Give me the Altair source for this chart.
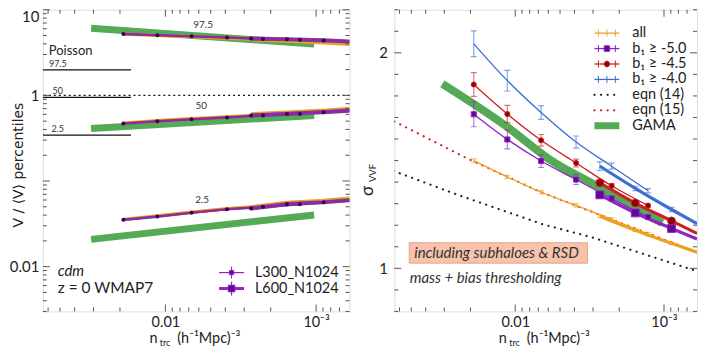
import altair as alt
import pandas as pd

# ---------------- data ----------------
n_L300 = [0.0190, 0.0113, 0.0067, 0.0039, 0.00225, 0.00128]
n_L600 = [0.0027, 0.00156, 0.00089, 0.0006]

# left panel: percentiles of V/<V>  (b1 selections overlap; "all" = orange)
p975_L300 = [5.22, 5.04, 4.91, 4.73, 4.54, 4.46]
p975_L600 = [4.61, 4.52, 4.38, 4.26]
p975_L300_all = [5.18, 5.00, 4.86, 4.66, 4.48, 4.36]
p975_L600_all = [4.55, 4.40, 4.20, 4.02]
p50_L300 = [0.468, 0.498, 0.525, 0.553, 0.583, 0.608]
p50_L600 = [0.583, 0.608, 0.636, 0.665]
p50_L300_all = [0.476, 0.506, 0.534, 0.563, 0.594, 0.620]
p50_L600_all = [0.596, 0.624, 0.655, 0.690]
p25_L300 = [0.0352, 0.0384, 0.0426, 0.0467, 0.0499, 0.0536]
p25_L600 = [0.0479, 0.0536, 0.0565, 0.0596]
p25_L300_all = [0.0357, 0.0391, 0.0434, 0.0476, 0.0510, 0.0548]
p25_L600_all = [0.0489, 0.0549, 0.0582, 0.0618]

gama_n = [0.0311, 0.00103]
gama_p975 = [6.07, 3.98]
gama_p50 = [0.41, 0.583]
gama_p25 = [0.0208, 0.0401]

poisson_n = [0.065, 0.0169]
poisson_levels = [1.99, 0.95, 0.344]
poisson_names = ["97.5", "50", "2.5"]

# right panel: sigma_VVF
sig_all_L300 = [1.500, 1.424, 1.353, 1.292, 1.227, 1.159]
sig_b50_L300 = [1.715, 1.598, 1.498, 1.412, 1.324, 1.238]
sig_b45_L300 = [1.853, 1.716, 1.594, 1.489, 1.383, 1.291]
sig_b40_L300 = [2.042, 1.871, 1.723, 1.586, 1.474, 1.360]
err_all_L300 = [0.008, 0.008, 0.008, 0.008, 0.008, 0.008]
err_b50_L300 = [0.058, 0.044, 0.030, 0.023, 0.012, 0.010]
err_b45_L300 = [0.055, 0.040, 0.027, 0.018, 0.010, 0.008]
err_b40_L300 = [0.060, 0.048, 0.032, 0.028, 0.014, 0.010]
sig_all_L600 = [1.242, 1.177, 1.116, 1.075]
sig_b50_L600 = [1.341, 1.257, 1.185, 1.136]
sig_b45_L600 = [1.397, 1.303, 1.220, 1.162]
sig_b40_L600 = [1.474, 1.371, 1.273, 1.207]
err_all_L600 = [0.006, 0.006, 0.006]
err_b50_L600 = [0.012, 0.008, 0.008]
err_b45_L600 = [0.012, 0.008, 0.008]
err_b40_L600 = [0.020, 0.010, 0.010]

eqn14_n = [0.0658, 0.0246, 0.00658, 0.00306, 0.000634]
eqn14_sig = [1.452, 1.342, 1.205, 1.144, 0.992]
eqn15_n = [0.065, 0.0206, 0.0067, 0.00225, 0.0006]
eqn15_sig = [1.682, 1.507, 1.353, 1.227, 1.075]
gama_sig_n = [0.0309, 0.01148, 0.00593, 0.00277, 0.001026]
gama_sig = [1.856, 1.659, 1.507, 1.379, 1.210]

# ---------------- style ----------------
W_L, W_R, H = 308, 304, 303
FONT = "Lato"
AX = "#555555"
TXT = "#222222"
GREEN = "#55aa55"
COL = {"all": "#f0a020", "b50": "#8e24c8", "b45": "#cc2222", "b40": "#3b6fd4"}
FILL = {"b50": "#5e0a96", "b45": "#8a0010"}

XAX = alt.Axis(values=[0.01, 0.001], labelExpr="datum.value > 0.005 ? '0.01' : '10⁻³'",
               ticks=False, domain=False, grid=False, labelPadding=4, labelFontSize=14.5,
               labelFont=FONT, labelColor=TXT, title=None, labelFlush=False, labelOverlap=False)
YLAX = alt.Axis(values=[10, 1, 0.01],
                labelExpr="datum.value >= 10 ? '10' : (datum.value >= 1 ? '1' : '0.01')",
                ticks=False, domain=False, grid=False, labelPadding=4, labelFontSize=15,
                labelFont=FONT, labelColor=TXT, title=None, labelFlush=True, labelFlushOffset=0,
                labelOverlap=False)
YRAX = alt.Axis(values=[1, 2], format="d", ticks=False, domain=False, grid=False, labelPadding=7,
                labelFontSize=15, labelFont=FONT, labelColor=TXT, title=None, labelFlush=False)


def X(f="n"):
    return alt.X(f"{f}:Q", scale=alt.Scale(type="log", domain=[0.0006, 0.065], reverse=True), axis=XAX)


def YL(f="v"):
    return alt.Y(f"{f}:Q", scale=alt.Scale(type="log", domain=[0.003, 10]), axis=YLAX)


def YR(f="s"):
    return alt.Y(f"{f}:Q", scale=alt.Scale(domain=[0.8, 2.2], nice=False, zero=False), axis=YRAX)


one = pd.DataFrame({"k": [0]})


def txt(x, y, s, size=14, italic=False, color=TXT, align="left", angle=0, baseline="middle",
        font=FONT):
    kw = dict(align=align, baseline=baseline, fontSize=size, font=font, color=color)
    if italic:
        kw["fontStyle"] = "italic"
    if angle:
        kw["angle"] = angle
    return alt.Chart(one).mark_text(**kw).encode(x=alt.value(x), y=alt.value(y), text=alt.value(s))


def seg(x1, x2, y1, y2, color, width, dash=None, cap="butt"):
    kw = dict(color=color, strokeWidth=width, strokeCap=cap)
    if dash:
        kw["strokeDash"] = dash
    return alt.Chart(one).mark_rule(**kw).encode(x=alt.value(x1), x2=alt.value(x2),
                                                  y=alt.value(y1), y2=alt.value(y2))


def pt(x, y, shape, size, fill, stroke):
    return alt.Chart(one).mark_point(shape=shape, size=size, filled=True, color=fill,
                                     stroke=stroke, strokeWidth=1, opacity=1).encode(
        x=alt.value(x), y=alt.value(y))


x_major = [0.01, 0.001]
x_minor = [0.06, 0.05, 0.04, 0.03, 0.02, 0.009, 0.008, 0.007, 0.006, 0.005, 0.004, 0.003,
           0.002, 0.0009, 0.0008, 0.0007]


def x_ticks(W):
    out = []
    for vals, L in [(x_major, 7), (x_minor, 4)]:
        d = pd.DataFrame({"t": vals})
        out.append(alt.Chart(d).mark_rule(color=AX, strokeWidth=1).encode(
            x=X("t"), y=alt.value(H), y2=alt.value(H - L)))
        out.append(alt.Chart(d).mark_rule(color=AX, strokeWidth=1).encode(
            x=X("t"), y=alt.value(0), y2=alt.value(L)))
    return out


def y_ticks(W, Yf, major, minor):
    out = []
    for vals, L in [(major, 7), (minor, 4)]:
        d = pd.DataFrame({"t": vals})
        out.append(alt.Chart(d).mark_rule(color=AX, strokeWidth=1).encode(
            y=Yf("t"), x=alt.value(0), x2=alt.value(L)))
        out.append(alt.Chart(d).mark_rule(color=AX, strokeWidth=1).encode(
            y=Yf("t"), x=alt.value(W), x2=alt.value(W - L)))
    return out


def x_title(c):
    return [txt(c - 47, H + 28, "n", 14.5),
            txt(c - 36.5, H + 32, "trc", 9),
            txt(c - 19, H + 28, "(h⁻¹Mpc)⁻³", 14.5)]


# ---------------- left panel ----------------
left_layers = []

gdf = pd.DataFrame({
    "n": gama_n * 3,
    "v": gama_p975 + gama_p50 + gama_p25,
    "g": ["97.5"] * 2 + ["50"] * 2 + ["2.5"] * 2,
})
left_layers.append(alt.Chart(gdf).mark_line(color=GREEN, strokeWidth=7, clip=True).encode(
    x=X(), y=YL(), detail="g:N"))

pdf = pd.DataFrame({"n1": [poisson_n[0]] * 3, "n2": [poisson_n[1]] * 3,
                    "v": poisson_levels, "lab": poisson_names})
left_layers.append(alt.Chart(pdf).mark_rule(color="#111", strokeWidth=1.2, clip=True).encode(
    x=X("n1"), x2="n2:Q", y=YL()))
left_layers.append(alt.Chart(pdf).mark_text(align="center", baseline="bottom", dy=-1, fontSize=9,
                                            font=FONT, color="#333").encode(
    x=alt.value(15), y=YL(), text="lab:N"))

left_layers.append(alt.Chart(pd.DataFrame({"v": [1.0]})).mark_rule(
    color="#111", strokeWidth=1.5, strokeDash=[2, 3]).encode(y=YL()))


def sim_rows(vals300, vals600, pct):
    a = pd.DataFrame({"n": n_L300, "v": vals300, "g": pct})
    b = pd.DataFrame({"n": n_L600, "v": vals600, "g": pct})
    return a, b


sets = {
    "all": [(p975_L300_all, p975_L600_all, "97.5"), (p50_L300_all, p50_L600_all, "50"),
            (p25_L300_all, p25_L600_all, "2.5")],
    "sel": [(p975_L300, p975_L600, "97.5"), (p50_L300, p50_L600, "50"),
            (p25_L300, p25_L600, "2.5")],
}
widths = {"all": (3.2, 5.0), "b40": (2.6, 4.2), "b45": (2.0, 3.2), "b50": (1.2, 2.2)}
for key in ["all", "b40", "b45", "b50"]:
    src = sets["all"] if key == "all" else sets["sel"]
    a = pd.concat([sim_rows(*s)[0] for s in src])
    b = pd.concat([sim_rows(*s)[1] for s in src])
    w300, w600 = widths[key]
    left_layers.append(alt.Chart(a).mark_line(color=COL[key], strokeWidth=w300, clip=True).encode(
        x=X(), y=YL(), detail="g:N"))
    left_layers.append(alt.Chart(b).mark_line(color=COL[key], strokeWidth=w600, clip=True).encode(
        x=X(), y=YL(), detail="g:N"))

mk = pd.concat([sim_rows(*s)[0] for s in sets["sel"]] +
               [sim_rows(*s)[1].iloc[:3] for s in sets["sel"]])
left_layers.append(alt.Chart(mk).mark_point(filled=True, size=16, color="#3a0050", opacity=1,
                                            clip=True).encode(x=X(), y=YL()))

left_layers += x_ticks(W_L)
ymaj = [10, 1, 0.1, 0.01]
ymin = [k * 10 ** e for e in [-3, -2, -1, 0] for k in range(2, 10) if 0.003 <= k * 10 ** e <= 10]
left_layers += y_ticks(W_L, YL, ymaj, ymin)

# annotations
left_layers += [
    txt(161, 15, "97.5", 10, color="#333", align="center"),
    txt(159, 97, "50", 10, color="#333", align="center"),
    txt(160, 191, "2.5", 10, color="#333", align="center"),
    txt(6, 41, "Poisson", 13),
    txt(15, 262, "cdm", 15, italic=True),
    txt(15, 279, "z = 0 WMAP7", 15.5),
    txt(213, 264, "L300_N1024", 14.5),
    txt(213, 280, "L600_N1024", 14.5),
    seg(177, 202, 264, 264, COL["b50"], 1.2),
    seg(189.5, 189.5, 258, 270, COL["b50"], 1),
    pt(189.5, 264, "square", 18, FILL["b50"], COL["b50"]),
    seg(177, 202, 280, 280, COL["b50"], 3),
    seg(189.5, 189.5, 273, 287, COL["b50"], 1.2),
    pt(189.5, 280, "square", 45, FILL["b50"], COL["b50"]),
]
left_layers += x_title(W_L / 2)
left_layers.append(txt(-24, 156, "V / ⟨V⟩  percentiles", 14, align="center", angle=270,
                       font="DejaVu Sans"))

left = alt.layer(*left_layers).properties(width=W_L, height=H)

# ---------------- right panel ----------------
R = []


def dotted(ns, ss, color):
    d = pd.DataFrame({"n": ns, "s": ss})
    return alt.Chart(d).mark_line(color=color, strokeWidth=2.2, strokeDash=[0.1, 6.5],
                                  strokeCap="round", clip=True).encode(x=X(), y=YR())


R.append(dotted(eqn14_n, eqn14_sig, "#222"))
R.append(dotted(eqn15_n, eqn15_sig, "#d02020"))
R.append(alt.Chart(pd.DataFrame({"n": gama_sig_n, "s": gama_sig})).mark_line(
    color=GREEN, strokeWidth=8, clip=True, interpolate="monotone").encode(x=X(), y=YR()))

series = [
    ("all", sig_all_L300, err_all_L300, sig_all_L600, err_all_L600, None),
    ("b50", sig_b50_L300, err_b50_L300, sig_b50_L600, err_b50_L600, "square"),
    ("b45", sig_b45_L300, err_b45_L300, sig_b45_L600, err_b45_L600, "circle"),
    ("b40", sig_b40_L300, err_b40_L300, sig_b40_L600, err_b40_L600, None),
]
for key, s3, e3, s6, e6, shape in series:
    c = COL[key]
    d3 = pd.DataFrame({"n": n_L300, "s": s3, "lo": [a - b for a, b in zip(s3, e3)],
                       "hi": [a + b for a, b in zip(s3, e3)]})
    d6 = pd.DataFrame({"n": n_L600, "s": s6})
    d6e = pd.DataFrame({"n": n_L600[:3], "s": s6[:3], "lo": [a - b for a, b in zip(s6[:3], e6)],
                        "hi": [a + b for a, b in zip(s6[:3], e6)]})
    R.append(alt.Chart(d3).mark_line(color=c, strokeWidth=1.3, interpolate="monotone", clip=True).encode(
        x=X(), y=YR()))
    R.append(alt.Chart(d6).mark_line(color=c, strokeWidth=3.2, interpolate="monotone", clip=True).encode(
        x=X(), y=YR()))
    for d in (d3, d6e):
        R.append(alt.Chart(d).mark_rule(color=c, strokeWidth=1.2, opacity=0.6, clip=True).encode(
            x=X(), y=YR("lo"), y2="hi:Q"))
        R.append(alt.Chart(d).mark_tick(color=c, orient="horizontal", size=6, thickness=1.2,
                                        opacity=0.6, clip=True).encode(x=X(), y=YR("lo")))
        R.append(alt.Chart(d).mark_tick(color=c, orient="horizontal", size=6, thickness=1.2,
                                        opacity=0.6, clip=True).encode(x=X(), y=YR("hi")))
    if shape:
        R.append(alt.Chart(d3).mark_point(shape=shape, filled=True, size=26, color=FILL[key],
                                          stroke=c, strokeWidth=1, opacity=1, clip=True).encode(
            x=X(), y=YR()))
        R.append(alt.Chart(d6e).mark_point(shape=shape, filled=True, size=62, color=FILL[key],
                                           stroke=c, strokeWidth=1, opacity=1, clip=True).encode(
            x=X(), y=YR()))

R += x_ticks(W_R)
rmaj = [1.0, 2.0]
rmin = [0.8, 0.9, 1.1, 1.2, 1.3, 1.4, 1.5, 1.6, 1.7, 1.8, 1.9, 2.1, 2.2]
R += y_ticks(W_R, YR, rmaj, rmin)

# legend
lx1, lx2, ltx = 201, 226, 239
rows = [23.5, 39.0, 54.5, 70.0, 85.5, 101.0, 116.5]
labels = ["all", "b₁ ≥ -5.0", "b₁ ≥ -4.5", "b₁ ≥ -4.0", "eqn (14)", "eqn (15)", "GAMA"]
for i, key in enumerate(["all", "b50", "b45", "b40"]):
    y = rows[i]
    c = COL[key]
    R.append(seg(lx1, lx2, y, y, c, 1.3))
    for xx in (lx1 + 4, (lx1 + lx2) / 2, lx2 - 4):
        R.append(seg(xx, xx, y - 3.5, y + 3.5, c, 1))
    if key == "b50":
        R.append(pt((lx1 + lx2) / 2, y, "square", 30, FILL[key], c))
    if key == "b45":
        R.append(pt((lx1 + lx2) / 2, y, "circle", 30, FILL[key], c))
R.append(seg(lx1, lx2, rows[4], rows[4], "#222", 2.2, dash=[0.1, 6.5], cap="round"))
R.append(seg(lx1, lx2, rows[5], rows[5], "#d02020", 2.2, dash=[0.1, 6.5], cap="round"))
R.append(seg(lx1, lx2, rows[6], rows[6], GREEN, 7))
for y, lab in zip(rows, labels):
    R.append(txt(ltx, y, lab, 14.5))

# annotation box
R.append(alt.Chart(one).mark_rect(color="#f9c2ad", stroke="#e8a48a", strokeWidth=1).encode(
    x=alt.value(15), x2=alt.value(194), y=alt.value(234), y2=alt.value(254.5)))
R.append(txt(20, 244.5, "including subhaloes & RSD", 15, italic=True, color="#333"))
R.append(txt(15.5, 269, "mass + bias thresholding", 15, italic=True, color="#333"))

R += x_title(W_R / 2)
R.append(txt(-26, 182, "σ", 17, align="center", angle=270))
R.append(txt(-21, 164, "VVF", 9.5, align="center", angle=270))

right = alt.layer(*R).properties(width=W_R, height=H)

chart = alt.hconcat(left, right, spacing=45, bounds="flush").properties(padding=0).configure_view(
    stroke=AX, strokeWidth=1.5).configure(background="white")

chart.save("out.html", embed_options={"renderer": "svg", "actions": False})
